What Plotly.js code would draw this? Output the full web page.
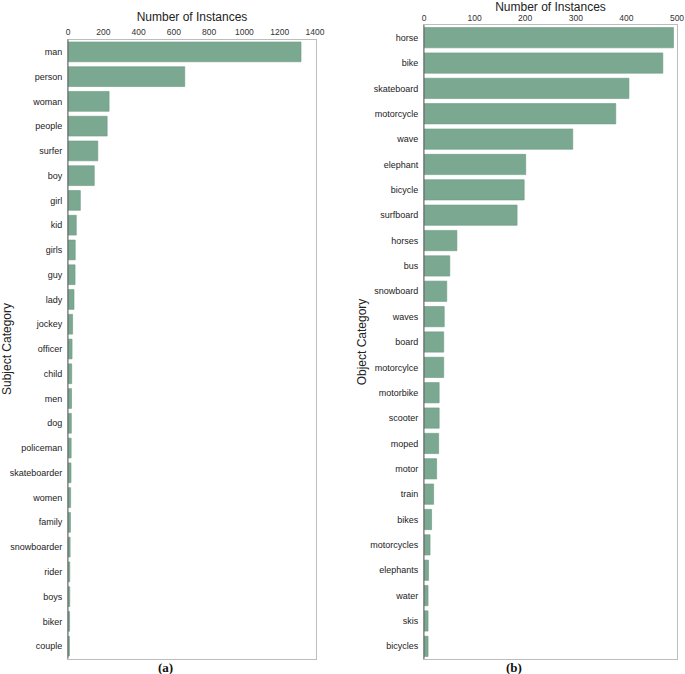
<!DOCTYPE html>
<html>
<head>
<meta charset="utf-8">
<script src="https://cdn.plot.ly/plotly-3.0.1.min.js"></script>
<style>html,body{margin:0;padding:0;background:#fff;}#chart{width:685px;height:674px;}</style>
</head>
<body>
<div id="chart"></div>
<script>
// Subject categories (panel a)
const subjectCategories = ["man","person","woman","people","surfer","boy","girl","kid","girls","guy","lady","jockey","officer","child","men","dog","policeman","skateboarder","women","family","snowboarder","rider","boys","biker","couple"];
const subjectCounts = [1321,662,233,222,169,149,70,47,41,40,34,26,23,21,20,19,18,17,15,14,12,10,10,9,8];

// Object categories (panel b)
const objectCategories = ["horse","bike","skateboard","motorcycle","wave","elephant","bicycle","surfboard","horses","bus","snowboard","waves","board","motorcylce","motorbike","scooter","moped","motor","train","bikes","motorcycles","elephants","water","skis","bicycles"];
const objectCounts = [493,472,405,379,294,201,198,184,65,51,45,40,39,39,30,30,29,25,19,15,12,9,8,8,8];

const xTitle = "Number of Instances";
const panelLabels = ["(a)", "(b)"];

const barColor = "#7aa891";
const barLine = "#6b9a83";
const font = "Liberation Sans, Arial, sans-serif";

const traces = [
  {type:"bar", orientation:"h", x:subjectCounts, y:subjectCategories, xaxis:"x", yaxis:"y",
   marker:{color:barColor, line:{color:barLine, width:0.6}}, width:0.8, hoverinfo:"x+y"},
  {type:"bar", orientation:"h", x:objectCounts, y:objectCategories, xaxis:"x2", yaxis:"y2",
   marker:{color:barColor, line:{color:barLine, width:0.6}}, width:0.8, hoverinfo:"x+y"}
];

const W = 685, H = 674;
const xaxisCommon = {
  side:"top", showgrid:false, zeroline:false, ticks:"", showline:true, mirror:true,
  linecolor:"#bdbdbd", linewidth:1, tickfont:{size:8.5, color:"#333", family:font},
  title:{text:xTitle, font:{size:12, color:"#222", family:font}, standoff:2}
};
const yaxisCommon = {
  autorange:"reversed", showgrid:false, zeroline:false, ticks:"", showline:true, mirror:true,
  linecolor:"#bdbdbd", linewidth:1, tickfont:{size:9, color:"#222", family:font},
  ticklabelstandoff:3
};

const layout = {
  width:W, height:H,
  margin:{l:0, r:0, t:0, b:0},
  paper_bgcolor:"#fff", plot_bgcolor:"#fff",
  showlegend:false,
  bargap:0.2,
  font:{family:font},
  xaxis:Object.assign({}, xaxisCommon, {domain:[68/W, 316/W], range:[0,1406], anchor:"y",
        tickvals:[0,200,400,600,800,1000,1200,1400]}),
  yaxis:Object.assign({}, yaxisCommon, {domain:[1-658.5/H, 1-39.5/H], anchor:"x",
        title:{text:"Subject Category", font:{size:12, color:"#222", family:font}, standoff:4}}),
  xaxis2:Object.assign({}, xaxisCommon, {domain:[424/W, 677/W], range:[0,500], anchor:"y2",
        tickvals:[0,100,200,300,400,500]}),
  yaxis2:Object.assign({}, yaxisCommon, {domain:[1-659/H, 1-25/H], anchor:"x2",
        title:{text:"Object Category", font:{size:12, color:"#222", family:font}, standoff:0}}),
  shapes:[
    {type:"line", xref:"paper", yref:"paper", x0:68/W, x1:68/W, y0:1-658.5/H, y1:1-39.5/H, line:{color:"#666", width:1}},
    {type:"line", xref:"paper", yref:"paper", x0:424/W, x1:424/W, y0:1-659/H, y1:1-25/H, line:{color:"#666", width:1}}
  ],
  annotations:[
    {text:"<b>"+panelLabels[0]+"</b>", xref:"paper", yref:"paper", x:165/W, y:1-667/H, showarrow:false,
     xanchor:"center", yanchor:"middle", font:{family:"Liberation Serif, Times New Roman, serif", size:13, color:"#111"}},
    {text:"<b>"+panelLabels[1]+"</b>", xref:"paper", yref:"paper", x:514/W, y:1-667/H, showarrow:false,
     xanchor:"center", yanchor:"middle", font:{family:"Liberation Serif, Times New Roman, serif", size:13, color:"#111"}}
  ]
};

Plotly.newPlot("chart", traces, layout, {displayModeBar:false, staticPlot:true});
</script>
</body>
</html>
